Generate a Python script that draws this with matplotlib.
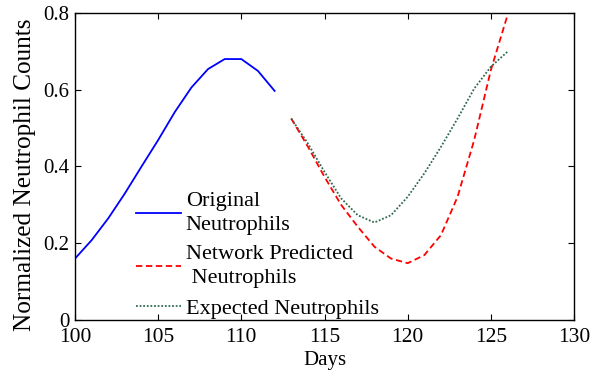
import matplotlib
matplotlib.use("Agg")
import matplotlib.pyplot as plt

days_orig = [100, 101, 102, 103, 104, 105, 106, 107, 108, 109, 110, 111, 112]
orig = [0.160, 0.208, 0.265, 0.330, 0.400, 0.469, 0.542, 0.606, 0.654, 0.680, 0.680, 0.649, 0.597]

days_pred = [113, 114, 115, 116, 117, 118, 119, 120, 121, 122, 123, 124, 125, 126]
pred = [0.525, 0.452, 0.373, 0.300, 0.243, 0.191, 0.160, 0.148, 0.169, 0.221, 0.321, 0.469, 0.651, 0.794]
expected = [0.525, 0.460, 0.386, 0.317, 0.273, 0.254, 0.273, 0.321, 0.382, 0.451, 0.525, 0.603, 0.660, 0.699]

xticks = [100, 105, 110, 115, 120, 125, 130]
yticks = [0, 0.2, 0.4, 0.6, 0.8]
ytick_labels = ["0", "0.2", "0.4", "0.6", "0.8"]

plt.rcParams['font.family'] = ['Liberation Serif', 'DejaVu Serif']

fig = plt.figure(figsize=(6.03, 3.76), dpi=100)
ax = fig.add_axes([0.1244, 0.149, 0.8275, 0.8164])

ax.plot(days_orig, orig, color='#0000ff', lw=1.3, label='Original\nNeutrophils')
ax.plot(days_pred, pred, color='#ff0000', lw=1.3, ls=(0, (3.5, 2)), label='Network Predicted\n Neutrophils')
ax.plot(days_pred, expected, color='#2e6b4f', lw=1.3, ls=(0, (1, 1)), label='Expected Neutrophils')

ax.set_xlim(100, 130)
ax.set_ylim(0, 0.8)
ax.set_xticks(xticks)
ax.set_yticks(yticks)
ax.set_yticklabels(ytick_labels)
ax.tick_params(direction='in', top=True, right=True, length=4, width=0.8)
ax.tick_params(axis='x', pad=6, labelsize=15.5)
ax.tick_params(axis='y', pad=4, labelsize=15)
for s in ax.spines.values():
    s.set_linewidth(1.0)

ax.set_xlabel('Days', fontsize=15, labelpad=3)
ax.set_ylabel('Normalized Neutrophil Counts', fontsize=18.2)
ax.yaxis.set_label_coords(-0.079, 0.473)

leg = ax.legend(loc='lower left', bbox_to_anchor=(0.105, -0.025), frameon=False, fontsize=16,
                handlelength=2.0, handletextpad=0.22, labelspacing=0.45, borderaxespad=0)
for t in leg.get_texts():
    t.set_linespacing(1.35)

fig.savefig('out.png', dpi=100)
